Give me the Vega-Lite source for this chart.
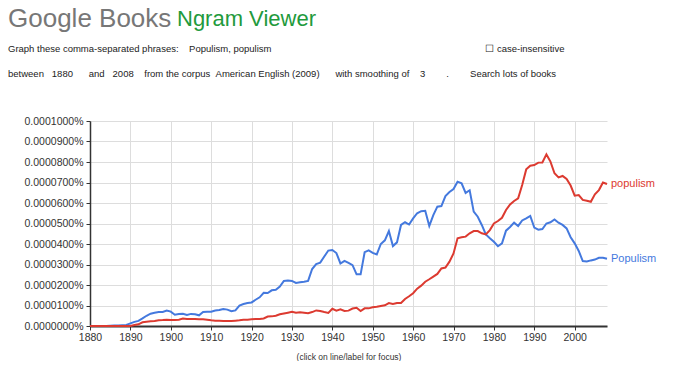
{
  "$schema": "https://vega.github.io/schema/vega-lite/v6.json",
  "background": "white",
  "padding": {"left": 8, "top": 5, "right": 0, "bottom": 0},
  "config": {"view": {"stroke": null}, "font": "Liberation Sans"},
  "title": {
    "text": "Google Books",
    "subtitle": [
      "Graph these comma-separated phrases:\u00a0\u00a0\u00a0\u00a0Populism, populism\u00a0\u00a0\u00a0\u00a0\u00a0\u00a0\u00a0\u00a0\u00a0\u00a0\u00a0\u00a0\u00a0\u00a0\u00a0\u00a0\u00a0\u00a0\u00a0\u00a0\u00a0\u00a0\u00a0\u00a0\u00a0\u00a0\u00a0\u00a0\u00a0\u00a0\u00a0\u00a0\u00a0\u00a0\u00a0\u00a0\u00a0\u00a0\u00a0\u00a0\u00a0\u00a0\u00a0\u00a0\u00a0\u00a0\u00a0\u00a0\u00a0\u00a0\u00a0\u00a0\u00a0\u00a0\u00a0\u00a0\u00a0\u00a0\u00a0\u00a0\u00a0\u00a0\u00a0\u00a0\u00a0\u00a0\u00a0\u00a0\u00a0\u00a0\u00a0\u00a0\u00a0\u00a0\u00a0\u00a0\u00a0\u00a0\u00a0\u00a0\u00a0☐ case-insensitive",
      "between\u00a0\u00a0\u00a01880\u00a0\u00a0\u00a0\u00a0\u00a0\u00a0and\u00a0\u00a0\u00a02008\u00a0\u00a0\u00a0\u00a0from the corpus\u00a0\u00a0American English (2009)\u00a0\u00a0\u00a0\u00a0\u00a0\u00a0with smoothing of\u00a0\u00a0\u00a0\u00a03\u00a0\u00a0\u00a0\u00a0\u00a0\u00a0\u00a0\u00a0.\u00a0\u00a0\u00a0\u00a0\u00a0\u00a0\u00a0\u00a0Search lots of books"
    ],
    "anchor": "start",
    "frame": "bounds",
    "dy": 78,
    "font": "Liberation Sans",
    "fontSize": 26,
    "fontWeight": "normal",
    "color": "#777777",
    "subtitleFont": "Liberation Sans",
    "subtitleFontSize": 9.5,
    "subtitleColor": "#222222",
    "subtitlePadding": 12,
    "subtitleLineHeight": 25,
    "offset": 8
  },
  "vconcat": [
    {
      "title": {
        "text": "Ngram Viewer",
        "anchor": "start",
        "frame": "bounds",
        "dx": 169,
        "dy": -83,
        "font": "Liberation Sans",
        "fontSize": 22,
        "fontWeight": "normal",
        "color": "#229a3c",
        "offset": 2
      },
      "width": 517,
      "height": 205,
      "data": {
        "values": [
          {"year":1880,"phrase":"Populism","freq":0},{"year":1881,"phrase":"Populism","freq":0},{"year":1882,"phrase":"Populism","freq":0},{"year":1883,"phrase":"Populism","freq":0},{"year":1884,"phrase":"Populism","freq":0},{"year":1885,"phrase":"Populism","freq":0.01e-5},{"year":1886,"phrase":"Populism","freq":0.02e-5},{"year":1887,"phrase":"Populism","freq":0.03e-5},{"year":1888,"phrase":"Populism","freq":0.04e-5},{"year":1889,"phrase":"Populism","freq":0.05e-5},
          {"year":1890,"phrase":"Populism","freq":0.13e-5},{"year":1891,"phrase":"Populism","freq":0.2e-5},{"year":1892,"phrase":"Populism","freq":0.25e-5},{"year":1893,"phrase":"Populism","freq":0.37e-5},{"year":1894,"phrase":"Populism","freq":0.5e-5},{"year":1895,"phrase":"Populism","freq":0.6e-5},{"year":1896,"phrase":"Populism","freq":0.65e-5},{"year":1897,"phrase":"Populism","freq":0.68e-5},{"year":1898,"phrase":"Populism","freq":0.68e-5},{"year":1899,"phrase":"Populism","freq":0.75e-5},
          {"year":1900,"phrase":"Populism","freq":0.7e-5},{"year":1901,"phrase":"Populism","freq":0.55e-5},{"year":1902,"phrase":"Populism","freq":0.59e-5},{"year":1903,"phrase":"Populism","freq":0.6e-5},{"year":1904,"phrase":"Populism","freq":0.54e-5},{"year":1905,"phrase":"Populism","freq":0.59e-5},{"year":1906,"phrase":"Populism","freq":0.57e-5},{"year":1907,"phrase":"Populism","freq":0.52e-5},{"year":1908,"phrase":"Populism","freq":0.68e-5},{"year":1909,"phrase":"Populism","freq":0.7e-5},
          {"year":1910,"phrase":"Populism","freq":0.7e-5},{"year":1911,"phrase":"Populism","freq":0.76e-5},{"year":1912,"phrase":"Populism","freq":0.78e-5},{"year":1913,"phrase":"Populism","freq":0.83e-5},{"year":1914,"phrase":"Populism","freq":0.8e-5},{"year":1915,"phrase":"Populism","freq":0.72e-5},{"year":1916,"phrase":"Populism","freq":0.76e-5},{"year":1917,"phrase":"Populism","freq":1.0e-5},{"year":1918,"phrase":"Populism","freq":1.07e-5},{"year":1919,"phrase":"Populism","freq":1.12e-5},
          {"year":1920,"phrase":"Populism","freq":1.15e-5},{"year":1921,"phrase":"Populism","freq":1.28e-5},{"year":1922,"phrase":"Populism","freq":1.4e-5},{"year":1923,"phrase":"Populism","freq":1.62e-5},{"year":1924,"phrase":"Populism","freq":1.61e-5},{"year":1925,"phrase":"Populism","freq":1.74e-5},{"year":1926,"phrase":"Populism","freq":1.77e-5},{"year":1927,"phrase":"Populism","freq":1.92e-5},{"year":1928,"phrase":"Populism","freq":2.2e-5},{"year":1929,"phrase":"Populism","freq":2.22e-5},
          {"year":1930,"phrase":"Populism","freq":2.2e-5},{"year":1931,"phrase":"Populism","freq":2.1e-5},{"year":1932,"phrase":"Populism","freq":2.13e-5},{"year":1933,"phrase":"Populism","freq":2.16e-5},{"year":1934,"phrase":"Populism","freq":2.2e-5},{"year":1935,"phrase":"Populism","freq":2.78e-5},{"year":1936,"phrase":"Populism","freq":3.02e-5},{"year":1937,"phrase":"Populism","freq":3.09e-5},{"year":1938,"phrase":"Populism","freq":3.39e-5},{"year":1939,"phrase":"Populism","freq":3.68e-5},
          {"year":1940,"phrase":"Populism","freq":3.71e-5},{"year":1941,"phrase":"Populism","freq":3.56e-5},{"year":1942,"phrase":"Populism","freq":3.05e-5},{"year":1943,"phrase":"Populism","freq":3.18e-5},{"year":1944,"phrase":"Populism","freq":3.08e-5},{"year":1945,"phrase":"Populism","freq":2.97e-5},{"year":1946,"phrase":"Populism","freq":2.52e-5},{"year":1947,"phrase":"Populism","freq":2.52e-5},{"year":1948,"phrase":"Populism","freq":3.6e-5},{"year":1949,"phrase":"Populism","freq":3.69e-5},
          {"year":1950,"phrase":"Populism","freq":3.57e-5},{"year":1951,"phrase":"Populism","freq":3.49e-5},{"year":1952,"phrase":"Populism","freq":4.0e-5},{"year":1953,"phrase":"Populism","freq":4.18e-5},{"year":1954,"phrase":"Populism","freq":4.63e-5},{"year":1955,"phrase":"Populism","freq":3.9e-5},{"year":1956,"phrase":"Populism","freq":4.08e-5},{"year":1957,"phrase":"Populism","freq":4.93e-5},{"year":1958,"phrase":"Populism","freq":5.06e-5},{"year":1959,"phrase":"Populism","freq":4.95e-5},
          {"year":1960,"phrase":"Populism","freq":5.25e-5},{"year":1961,"phrase":"Populism","freq":5.5e-5},{"year":1962,"phrase":"Populism","freq":5.6e-5},{"year":1963,"phrase":"Populism","freq":5.62e-5},{"year":1964,"phrase":"Populism","freq":4.88e-5},{"year":1965,"phrase":"Populism","freq":5.41e-5},{"year":1966,"phrase":"Populism","freq":5.82e-5},{"year":1967,"phrase":"Populism","freq":5.85e-5},{"year":1968,"phrase":"Populism","freq":6.34e-5},{"year":1969,"phrase":"Populism","freq":6.54e-5},
          {"year":1970,"phrase":"Populism","freq":6.68e-5},{"year":1971,"phrase":"Populism","freq":7.04e-5},{"year":1972,"phrase":"Populism","freq":6.96e-5},{"year":1973,"phrase":"Populism","freq":6.49e-5},{"year":1974,"phrase":"Populism","freq":6.62e-5},{"year":1975,"phrase":"Populism","freq":5.58e-5},{"year":1976,"phrase":"Populism","freq":5.33e-5},{"year":1977,"phrase":"Populism","freq":4.93e-5},{"year":1978,"phrase":"Populism","freq":4.47e-5},{"year":1979,"phrase":"Populism","freq":4.28e-5},
          {"year":1980,"phrase":"Populism","freq":4.11e-5},{"year":1981,"phrase":"Populism","freq":3.89e-5},{"year":1982,"phrase":"Populism","freq":4.03e-5},{"year":1983,"phrase":"Populism","freq":4.65e-5},{"year":1984,"phrase":"Populism","freq":4.83e-5},{"year":1985,"phrase":"Populism","freq":5.04e-5},{"year":1986,"phrase":"Populism","freq":4.88e-5},{"year":1987,"phrase":"Populism","freq":5.15e-5},{"year":1988,"phrase":"Populism","freq":5.25e-5},{"year":1989,"phrase":"Populism","freq":5.37e-5},
          {"year":1990,"phrase":"Populism","freq":4.8e-5},{"year":1991,"phrase":"Populism","freq":4.7e-5},{"year":1992,"phrase":"Populism","freq":4.73e-5},{"year":1993,"phrase":"Populism","freq":5.0e-5},{"year":1994,"phrase":"Populism","freq":5.06e-5},{"year":1995,"phrase":"Populism","freq":5.2e-5},{"year":1996,"phrase":"Populism","freq":5.04e-5},{"year":1997,"phrase":"Populism","freq":4.93e-5},{"year":1998,"phrase":"Populism","freq":4.76e-5},{"year":1999,"phrase":"Populism","freq":4.33e-5},
          {"year":2000,"phrase":"Populism","freq":4.03e-5},{"year":2001,"phrase":"Populism","freq":3.66e-5},{"year":2002,"phrase":"Populism","freq":3.17e-5},{"year":2003,"phrase":"Populism","freq":3.15e-5},{"year":2004,"phrase":"Populism","freq":3.2e-5},{"year":2005,"phrase":"Populism","freq":3.24e-5},{"year":2006,"phrase":"Populism","freq":3.33e-5},{"year":2007,"phrase":"Populism","freq":3.33e-5},{"year":2008,"phrase":"Populism","freq":3.28e-5},
          {"year":1880,"phrase":"populism","freq":0},{"year":1881,"phrase":"populism","freq":0},{"year":1882,"phrase":"populism","freq":0},{"year":1883,"phrase":"populism","freq":0},{"year":1884,"phrase":"populism","freq":0},{"year":1885,"phrase":"populism","freq":0},{"year":1886,"phrase":"populism","freq":0},{"year":1887,"phrase":"populism","freq":0},{"year":1888,"phrase":"populism","freq":0},{"year":1889,"phrase":"populism","freq":0},
          {"year":1890,"phrase":"populism","freq":0},{"year":1891,"phrase":"populism","freq":0.05e-5},{"year":1892,"phrase":"populism","freq":0.08e-5},{"year":1893,"phrase":"populism","freq":0.18e-5},{"year":1894,"phrase":"populism","freq":0.21e-5},{"year":1895,"phrase":"populism","freq":0.23e-5},{"year":1896,"phrase":"populism","freq":0.24e-5},{"year":1897,"phrase":"populism","freq":0.28e-5},{"year":1898,"phrase":"populism","freq":0.29e-5},{"year":1899,"phrase":"populism","freq":0.31e-5},
          {"year":1900,"phrase":"populism","freq":0.29e-5},{"year":1901,"phrase":"populism","freq":0.29e-5},{"year":1902,"phrase":"populism","freq":0.31e-5},{"year":1903,"phrase":"populism","freq":0.36e-5},{"year":1904,"phrase":"populism","freq":0.34e-5},{"year":1905,"phrase":"populism","freq":0.34e-5},{"year":1906,"phrase":"populism","freq":0.34e-5},{"year":1907,"phrase":"populism","freq":0.33e-5},{"year":1908,"phrase":"populism","freq":0.33e-5},{"year":1909,"phrase":"populism","freq":0.31e-5},
          {"year":1910,"phrase":"populism","freq":0.28e-5},{"year":1911,"phrase":"populism","freq":0.26e-5},{"year":1912,"phrase":"populism","freq":0.26e-5},{"year":1913,"phrase":"populism","freq":0.24e-5},{"year":1914,"phrase":"populism","freq":0.24e-5},{"year":1915,"phrase":"populism","freq":0.24e-5},{"year":1916,"phrase":"populism","freq":0.26e-5},{"year":1917,"phrase":"populism","freq":0.28e-5},{"year":1918,"phrase":"populism","freq":0.31e-5},{"year":1919,"phrase":"populism","freq":0.31e-5},
          {"year":1920,"phrase":"populism","freq":0.33e-5},{"year":1921,"phrase":"populism","freq":0.34e-5},{"year":1922,"phrase":"populism","freq":0.34e-5},{"year":1923,"phrase":"populism","freq":0.37e-5},{"year":1924,"phrase":"populism","freq":0.46e-5},{"year":1925,"phrase":"populism","freq":0.47e-5},{"year":1926,"phrase":"populism","freq":0.5e-5},{"year":1927,"phrase":"populism","freq":0.57e-5},{"year":1928,"phrase":"populism","freq":0.61e-5},{"year":1929,"phrase":"populism","freq":0.65e-5},
          {"year":1930,"phrase":"populism","freq":0.69e-5},{"year":1931,"phrase":"populism","freq":0.65e-5},{"year":1932,"phrase":"populism","freq":0.67e-5},{"year":1933,"phrase":"populism","freq":0.65e-5},{"year":1934,"phrase":"populism","freq":0.62e-5},{"year":1935,"phrase":"populism","freq":0.68e-5},{"year":1936,"phrase":"populism","freq":0.76e-5},{"year":1937,"phrase":"populism","freq":0.73e-5},{"year":1938,"phrase":"populism","freq":0.68e-5},{"year":1939,"phrase":"populism","freq":0.64e-5},
          {"year":1940,"phrase":"populism","freq":0.84e-5},{"year":1941,"phrase":"populism","freq":0.75e-5},{"year":1942,"phrase":"populism","freq":0.81e-5},{"year":1943,"phrase":"populism","freq":0.73e-5},{"year":1944,"phrase":"populism","freq":0.75e-5},{"year":1945,"phrase":"populism","freq":0.85e-5},{"year":1946,"phrase":"populism","freq":0.89e-5},{"year":1947,"phrase":"populism","freq":0.73e-5},{"year":1948,"phrase":"populism","freq":0.86e-5},{"year":1949,"phrase":"populism","freq":0.86e-5},
          {"year":1950,"phrase":"populism","freq":0.91e-5},{"year":1951,"phrase":"populism","freq":0.94e-5},{"year":1952,"phrase":"populism","freq":0.98e-5},{"year":1953,"phrase":"populism","freq":1.01e-5},{"year":1954,"phrase":"populism","freq":1.12e-5},{"year":1955,"phrase":"populism","freq":1.08e-5},{"year":1956,"phrase":"populism","freq":1.12e-5},{"year":1957,"phrase":"populism","freq":1.12e-5},{"year":1958,"phrase":"populism","freq":1.32e-5},{"year":1959,"phrase":"populism","freq":1.45e-5},
          {"year":1960,"phrase":"populism","freq":1.6e-5},{"year":1961,"phrase":"populism","freq":1.82e-5},{"year":1962,"phrase":"populism","freq":1.97e-5},{"year":1963,"phrase":"populism","freq":2.16e-5},{"year":1964,"phrase":"populism","freq":2.28e-5},{"year":1965,"phrase":"populism","freq":2.41e-5},{"year":1966,"phrase":"populism","freq":2.54e-5},{"year":1967,"phrase":"populism","freq":2.81e-5},{"year":1968,"phrase":"populism","freq":2.85e-5},{"year":1969,"phrase":"populism","freq":3.14e-5},
          {"year":1970,"phrase":"populism","freq":3.54e-5},{"year":1971,"phrase":"populism","freq":4.28e-5},{"year":1972,"phrase":"populism","freq":4.33e-5},{"year":1973,"phrase":"populism","freq":4.36e-5},{"year":1974,"phrase":"populism","freq":4.52e-5},{"year":1975,"phrase":"populism","freq":4.63e-5},{"year":1976,"phrase":"populism","freq":4.63e-5},{"year":1977,"phrase":"populism","freq":4.52e-5},{"year":1978,"phrase":"populism","freq":4.47e-5},{"year":1979,"phrase":"populism","freq":4.68e-5},
          {"year":1980,"phrase":"populism","freq":5.0e-5},{"year":1981,"phrase":"populism","freq":5.12e-5},{"year":1982,"phrase":"populism","freq":5.28e-5},{"year":1983,"phrase":"populism","freq":5.66e-5},{"year":1984,"phrase":"populism","freq":5.93e-5},{"year":1985,"phrase":"populism","freq":6.1e-5},{"year":1986,"phrase":"populism","freq":6.23e-5},{"year":1987,"phrase":"populism","freq":6.88e-5},{"year":1988,"phrase":"populism","freq":7.64e-5},{"year":1989,"phrase":"populism","freq":7.82e-5},
          {"year":1990,"phrase":"populism","freq":7.85e-5},{"year":1991,"phrase":"populism","freq":7.97e-5},{"year":1992,"phrase":"populism","freq":7.98e-5},{"year":1993,"phrase":"populism","freq":8.37e-5},{"year":1994,"phrase":"populism","freq":8.02e-5},{"year":1995,"phrase":"populism","freq":7.45e-5},{"year":1996,"phrase":"populism","freq":7.25e-5},{"year":1997,"phrase":"populism","freq":7.32e-5},{"year":1998,"phrase":"populism","freq":7.17e-5},{"year":1999,"phrase":"populism","freq":6.85e-5},
          {"year":2000,"phrase":"populism","freq":6.36e-5},{"year":2001,"phrase":"populism","freq":6.39e-5},{"year":2002,"phrase":"populism","freq":6.15e-5},{"year":2003,"phrase":"populism","freq":6.11e-5},{"year":2004,"phrase":"populism","freq":6.06e-5},{"year":2005,"phrase":"populism","freq":6.42e-5},{"year":2006,"phrase":"populism","freq":6.63e-5},{"year":2007,"phrase":"populism","freq":7.0e-5},{"year":2008,"phrase":"populism","freq":6.93e-5}
        ]
      },
      "encoding": {
        "x": {
          "field": "year",
          "type": "quantitative",
          "scale": {"domain": [1880, 2008], "nice": false, "zero": false},
          "axis": {
            "values": [1880, 1890, 1900, 1910, 1920, 1930, 1940, 1950, 1960, 1970, 1980, 1990, 2000],
            "format": "d",
            "title": "(click on line/label for focus)",
            "grid": true,
            "gridColor": "#dddddd",
            "domainColor": "#333333",
            "domainWidth": 2,
            "tickColor": "#333333",
            "tickSize": 4,
            "labelFont": "Liberation Sans",
            "labelFontSize": 10.5,
            "labelColor": "#333333",
            "labelPadding": 2,
            "labelFlush": false,
            "titleFont": "Liberation Sans",
            "titleFontSize": 8.5,
            "titleFontWeight": "normal",
            "titleColor": "#333333",
            "titlePadding": 10
          }
        },
        "y": {
          "field": "freq",
          "type": "quantitative",
          "scale": {"domain": [0, 0.0001], "nice": false, "zero": true},
          "axis": {
            "values": [0, 0.00001, 0.00002, 0.00003, 0.00004, 0.00005, 0.00006, 0.00007, 0.00008, 0.00009, 0.0001],
            "labelExpr": "format(datum.value, '.7f') + '%'",
            "title": null,
            "grid": true,
            "gridColor": "#dddddd",
            "domainColor": "#333333",
            "domainWidth": 1.5,
            "tickColor": "#333333",
            "tickSize": 4,
            "labelFont": "Liberation Sans",
            "labelFontSize": 10.5,
            "labelColor": "#333333",
            "labelPadding": 3,
            "labelFlush": false,
            "minExtent": 82
          }
        },
        "color": {
          "field": "phrase",
          "type": "nominal",
          "scale": {"domain": ["Populism", "populism"], "range": ["#4479de", "#dc3a30"]},
          "legend": null
        }
      },
      "layer": [
        {"mark": {"type": "line", "strokeWidth": 2}},
        {
          "transform": [{"filter": "datum.year === 2008"}],
          "mark": {"type": "text", "align": "left", "baseline": "middle", "dx": 4, "fontSize": 11, "font": "Liberation Sans"},
          "encoding": {"text": {"field": "phrase"}}
        }
      ]
    }
  ]
}
